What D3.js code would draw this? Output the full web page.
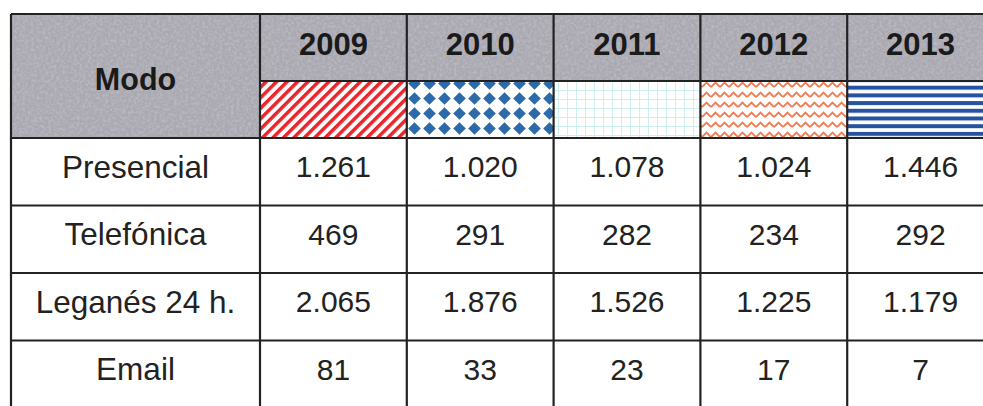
<!DOCTYPE html>
<html>
<head>
<meta charset="utf-8">
<script src="https://cdn.jsdelivr.net/npm/d3@7"></script>
<style>
body{margin:0;background:#fff;font-family:"Liberation Sans",Arial,sans-serif}
</style>
</head>
<body>
<script>
const years=["2009","2010","2011","2012","2013"];
const modes=["Presencial","Telefónica","Leganés 24 h.","Email"];
const v2009=[1261,469,2065,81];
const v2010=[1020,291,1876,33];
const v2011=[1078,282,1526,23];
const v2012=[1024,234,1225,17];
const v2013=[1446,292,1179,7];
const values={"2009":v2009,"2010":v2010,"2011":v2011,"2012":v2012,"2013":v2013};

const w=983,h=406;
const tLeft=11,tTop=14,firstCol=260,tRight=994;
const yearRowH=67,patRowH=57,tBottom=408;
const lineColor="#222";

const es=d3.formatLocale({decimal:",",thousands:".",grouping:[3],currency:["","€"]});
const fmt=es.format(",d");

const svg=d3.select("body").append("svg")
  .attr("width",w)
  .attr("height",h)

const defs=svg.append("defs");
// scanned paper look for the grey header
const f=defs.append("filter").attr("id","grain").attr("x",0).attr("y",0).attr("width","100%").attr("height","100%");
f.append("feTurbulence").attr("type","fractalNoise").attr("baseFrequency",0.35).attr("numOctaves",2).attr("seed",4).attr("result","n");
f.append("feColorMatrix").attr("in","n").attr("type","matrix")
  .attr("values","0 0 0 0 0.66  0 0 0 0 0.66  0 0 0 0 0.70  0 0 0 -0.9 0.55").attr("result","c");
f.append("feComposite").attr("in","c").attr("in2","SourceGraphic").attr("operator","in");
// 2009 red diagonal stripes
const p1=defs.append("pattern").attr("id","p2009").attr("patternUnits","userSpaceOnUse")
  .attr("width",7.4).attr("height",7.4).attr("patternTransform","rotate(45)");
p1.append("rect").attr("width",7.4).attr("height",7.4).attr("fill","#fff");
p1.append("rect").attr("width",3.5).attr("height",7.4).attr("fill","#e8262c");
// 2010 blue diamonds
const p2=defs.append("pattern").attr("id","p2010").attr("patternUnits","userSpaceOnUse")
  .attr("x",2).attr("y",1).attr("width",15).attr("height",15);
p2.append("rect").attr("width",15).attr("height",15).attr("fill","#fff");
p2.append("polygon").attr("points","7.5,1.2 13.8,7.5 7.5,13.8 1.2,7.5").attr("fill","#2d6aa9");
// 2011 light cyan grid
const p3=defs.append("pattern").attr("id","p2011").attr("patternUnits","userSpaceOnUse")
  .attr("width",9).attr("height",9);
p3.append("rect").attr("width",9).attr("height",9).attr("fill","#fff");
p3.append("path").attr("d","M0,0.5H9M0.5,0V9").attr("stroke","#cdefef").attr("stroke-width",1).attr("fill","none");
// 2012 orange zigzag
const p4=defs.append("pattern").attr("id","p2012").attr("patternUnits","userSpaceOnUse")
  .attr("width",9).attr("height",10);
p4.append("rect").attr("width",9).attr("height",10).attr("fill","#fff");
p4.append("path").attr("d","M0,7L4.5,2.5L9,7").attr("stroke","#f27b52").attr("stroke-width",1.8).attr("fill","none");
// 2013 blue horizontal stripes
const p5=defs.append("pattern").attr("id","p2013").attr("patternUnits","userSpaceOnUse")
  .attr("y",1).attr("width",10).attr("height",7.7);
p5.append("rect").attr("width",10).attr("height",7.7).attr("fill","#fff");
p5.append("rect").attr("width",10).attr("height",4).attr("fill","#2653a0");

const xScale=d3.scaleBand().domain(years).range([firstCol,tRight]);
const yScale=d3.scaleBand().domain(modes).range([tTop+yearRowH+patRowH,tBottom]);
const patY=tTop+yearRowH;

// header background
svg.append("rect")
  .attr("x",tLeft).attr("y",tTop)
  .attr("width",tRight-tLeft).attr("height",yearRowH+patRowH)
  .attr("fill","#aaa9b2");
svg.append("rect")
  .attr("x",tLeft).attr("y",tTop)
  .attr("width",tRight-tLeft).attr("height",yearRowH+patRowH)
  .attr("fill","#aaa9b2")
  .attr("filter","url(#grain)");

// pattern swatches
svg.selectAll("rect.swatch")
  .data(years)
  .enter()
  .append("rect")
  .attr("class","swatch")
  .attr("x",d=>xScale(d))
  .attr("y",patY)
  .attr("width",xScale.bandwidth())
  .attr("height",patRowH)
  .attr("fill",d=>"url(#p"+d+")");

// header texts
svg.append("text")
  .attr("x",(tLeft+firstCol)/2)
  .attr("y",tTop+(yearRowH+patRowH)/2+3)
  .attr("text-anchor","middle")
  .attr("dominant-baseline","central")
  .style("font-weight","bold")
  .style("font-size","30.5px")
  .attr("fill","#1a1a1a")
  .text("Modo");

svg.selectAll("text.year")
  .data(years)
  .enter()
  .append("text")
  .attr("class","year")
  .attr("x",d=>xScale(d)+xScale.bandwidth()/2)
  .attr("y",tTop+yearRowH/2-3)
  .attr("text-anchor","middle")
  .attr("dominant-baseline","central")
  .style("font-weight","bold")
  .style("font-size","31px")
  .attr("fill","#1a1a1a")
  .text(d=>d);

// row labels
svg.selectAll("text.mode")
  .data(modes)
  .enter()
  .append("text")
  .attr("class","mode")
  .attr("x",(tLeft+firstCol)/2)
  .attr("y",d=>yScale(d)+yScale.bandwidth()/2-5)
  .attr("text-anchor","middle")
  .attr("dominant-baseline","central")
  .style("font-size","31.5px")
  .attr("fill","#222")
  .text(d=>d);

// cells
years.forEach(y=>{
  svg.selectAll("text.v"+y)
    .data(values[y])
    .enter()
    .append("text")
    .attr("class","v"+y)
    .attr("x",xScale(y)+xScale.bandwidth()/2)
    .attr("y",(d,i)=>yScale(modes[i])+yScale.bandwidth()/2-5)
    .attr("text-anchor","middle")
    .attr("dominant-baseline","central")
    .style("font-size","30px")
    .attr("fill","#222")
    .text(d=>fmt(d));
});

// grid lines
const g=svg.append("g").attr("stroke",lineColor).attr("stroke-width",2.2).attr("fill","none");
const hLines=[tTop,tTop+yearRowH,patY+patRowH].concat(modes.slice(1).map(m=>yScale(m)));
hLines.forEach((y,i)=>{
  g.append("line")
    .attr("x1",i==1?firstCol:tLeft).attr("x2",tRight)
    .attr("y1",y).attr("y2",y);
});
const vLines=[tLeft,firstCol].concat(years.slice(1).map(d=>xScale(d)));
vLines.forEach(x=>{
  g.append("line").attr("x1",x).attr("x2",x).attr("y1",tTop).attr("y2",tBottom);
});
</script>
</body>
</html>
